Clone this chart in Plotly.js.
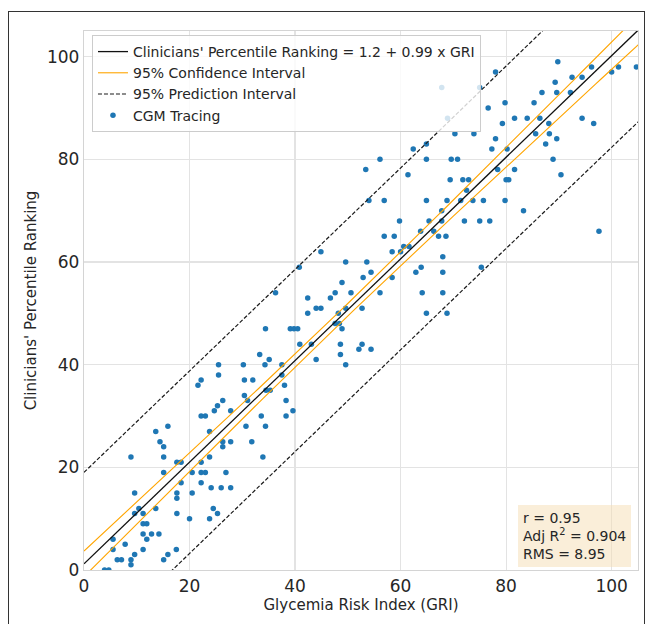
<!DOCTYPE html>
<html>
<head>
<meta charset="utf-8">
<script src="https://cdn.plot.ly/plotly-3.0.1.min.js"></script>
<style>
  html, body { margin: 0; padding: 0; background: #ffffff; }
  #wrap { position: relative; width: 648px; height: 624px; overflow: hidden; }
  #chart { position: absolute; left: 0; top: 0; width: 648px; height: 624px; }
  #frame { position: absolute; left: 8px; top: 11px; width: 637px; height: 640px;
           border: 1.5px solid #333333; box-sizing: border-box; pointer-events: none; }
</style>
</head>
<body>
<div id="wrap">
  <div id="chart"></div>
  <div id="frame"></div>
</div>
<script>
// ---- data ----
const gri = [
  3.9, 4.7, 5.5, 5.5, 6.3, 7.1, 7.8, 8.9, 8.9, 8.9,
  9.6, 9.6, 9.6, 10.4, 11.2, 11.2, 11.2, 11.2, 11.9, 11.9,
  12.8, 13.6, 13.6, 14.2, 14.4, 15.1, 15.1, 15.1, 15.1, 15.9,
  15.9, 17.5, 17.6, 17.6, 17.6, 17.6, 18.4, 18.4, 20.0, 20.5,
  20.5, 21.6, 22.2, 22.2, 22.2, 22.2, 22.2, 23.0, 23.0, 23.8,
  23.8, 23.8, 24.1, 24.5, 24.7, 25.3, 25.3, 25.5, 25.5, 26.0,
  26.3, 26.3, 26.3, 26.9, 27.8, 27.8, 27.8, 30.2, 30.4, 30.4,
  30.7, 31.0, 31.8, 32.0, 33.3, 33.6, 33.9, 34.3, 34.4, 34.4,
  34.5, 35.1, 35.3, 36.3, 37.5, 37.5, 38.0, 38.3, 38.3, 39.1,
  39.8, 40.5, 39.6, 40.8, 40.9, 42.4, 42.4, 43.1, 44.0, 44.0,
  44.9, 44.9, 46.7, 47.6, 47.6, 48.2, 48.4, 48.6, 48.6, 48.9,
  48.9, 49.6, 49.6, 49.6, 50.6, 52.1, 52.7, 52.7, 52.9, 53.4,
  53.6, 54.0, 54.4, 54.4, 56.1, 56.1, 56.9, 56.9, 58.4, 58.4,
  58.8, 59.8, 60.0, 60.6, 61.6, 61.4, 62.4, 62.9, 63.8, 63.9,
  64.1, 64.9, 64.9, 64.9, 64.9, 65.4, 66.3, 67.2, 67.8, 67.8,
  67.8, 68.0, 68.0, 68.0, 68.6, 68.8, 68.8, 68.9, 69.4, 69.6,
  70.3, 70.8, 71.4, 71.8, 72.1, 72.5, 72.9, 73.7, 73.9, 75.0,
  75.0, 75.3, 75.7, 76.6, 76.9, 77.3, 78.0, 78.0, 78.4, 79.3,
  79.8, 79.8, 80.0, 80.5, 80.2, 81.6, 81.6, 83.3, 84.0, 85.3,
  85.6, 86.4, 86.8, 87.5, 88.1, 88.2, 88.9, 89.3, 89.6, 89.8,
  89.6, 90.4, 92.2, 92.5, 94.4, 94.4, 96.2, 96.6, 97.6, 100.0,
  101.3, 104.7
];
const ranking = [
  0, 0, 4, 6, 2, 2, 5, 2, 1, 22,
  3, 15, 11, 12, 11, 9, 7, 4, 9, 6,
  7, 12, 27, 7, 25, 24, 22, 19, 2, 28,
  3, 4, 21, 15, 14, 11, 21, 17, 10, 19,
  15, 36, 37, 30, 21, 19, 17, 30, 19, 27,
  22, 10, 16, 12, 31, 32, 11, 40, 38, 16,
  33, 25, 24, 19, 31, 25, 16, 40, 37, 34,
  28, 33, 25, 37, 42, 30, 22, 40, 47, 28,
  35, 41, 35, 54, 40, 38, 36, 33, 30, 47,
  47, 47, 31, 59, 44, 53, 50, 44, 41, 51,
  51, 62, 53, 54, 48, 50, 48, 44, 42, 56,
  47, 60, 51, 40, 54, 43, 51, 44, 57, 78,
  60, 72, 58, 43, 80, 54, 72, 65, 62, 57,
  65, 68, 62, 63, 63, 77, 82, 58, 66, 59,
  54, 83, 80, 72, 50, 68, 66, 65, 94, 70,
  68, 61, 58, 54, 65, 72, 50, 88, 76, 80,
  85, 80, 72, 76, 68, 74, 76, 72, 85, 94,
  68, 59, 72, 90, 68, 82, 97, 84, 78, 87,
  91, 72, 76, 76, 82, 88, 78, 70, 88, 91,
  85, 88, 93, 83, 87, 85, 80, 95, 93, 99,
  84, 77, 93, 96, 96, 88, 98, 87, 66, 97,
  98, 98
];
const tickVals = [0, 20, 40, 60, 80, 100];
const fitIntercept = 1.2;
const fitSlope = 0.99;
const statR = "0.95";
const statAdjR2 = "0.904";
const statRMS = 8.95;
const tCrit = 1.971;

// ---- regression bands from the fit and the data ----
const n = gri.length;
const xbar = gri.reduce((a, b) => a + b, 0) / n;
const sxx = gri.reduce((a, b) => a + (b - xbar) * (b - xbar), 0);
const xs = [];
for (let v = 0; v <= 110; v += 1) xs.push(v);
const fit = xs.map(v => fitIntercept + fitSlope * v);
const ciHalf = xs.map(v => tCrit * statRMS * Math.sqrt(1 / n + (v - xbar) * (v - xbar) / sxx));
const piHalf = xs.map(v => tCrit * statRMS * Math.sqrt(1 + 1 / n + (v - xbar) * (v - xbar) / sxx));
const ciX = xs.concat([null], xs);
const ciY = fit.map((f, i) => f + ciHalf[i]).concat([null], fit.map((f, i) => f - ciHalf[i]));
const piY = fit.map((f, i) => f + piHalf[i]).concat([null], fit.map((f, i) => f - piHalf[i]));

const traces = [
  {
    x: gri, y: ranking, type: 'scatter', mode: 'markers', name: 'CGM Tracing',
    marker: { color: '#1f77b4', size: 5.5 }, legendrank: 4, cliponaxis: true
  },
  {
    x: ciX, y: ciY, type: 'scatter', mode: 'lines', name: '95% Confidence Interval',
    line: { color: '#FFA500', width: 1.1 }, connectgaps: false, legendrank: 2
  },
  {
    x: ciX, y: piY, type: 'scatter', mode: 'lines', name: '95% Prediction Interval',
    line: { color: '#1a1a1a', width: 1.2, dash: '4px,2px' }, connectgaps: false, legendrank: 3
  },
  {
    x: [0, 110], y: [fitIntercept, fitIntercept + fitSlope * 110], type: 'scatter', mode: 'lines',
    name: "Clinicians' Percentile Ranking = " + fitIntercept + " + " + fitSlope + " x GRI",
    line: { color: '#111111', width: 1.3 }, legendrank: 1
  }
];

const axisCommon = {
  range: [0, 105],
  tickvals: tickVals,
  ticks: '',
  showgrid: true,
  gridcolor: '#e3e3e3',
  gridwidth: 1.2,
  showline: true,
  mirror: true,
  linecolor: '#d4d4d4',
  linewidth: 1.2,
  zeroline: false,
  tickfont: { size: 17, color: '#262626' },
  automargin: false,
  fixedrange: true
};

const layout = {
  width: 648, height: 624,
  margin: { l: 84, r: 10, t: 31, b: 54, pad: 0 },
  paper_bgcolor: '#ffffff',
  plot_bgcolor: '#ffffff',
  font: { family: 'DejaVu Sans, sans-serif', color: '#262626' },
  showlegend: true,
  legend: {
    x: 0.0144, y: 0.9926, xanchor: 'left', yanchor: 'top',
    bgcolor: 'rgba(255,255,255,0.8)', bordercolor: '#cccccc', borderwidth: 1,
    font: { size: 14, color: '#262626' }, tracegroupgap: 0
  },
  xaxis: Object.assign({}, axisCommon, {
    title: { text: 'Glycemia Risk Index (GRI)', font: { size: 15, color: '#262626' }, standoff: 3 }
  }),
  yaxis: Object.assign({}, axisCommon, {
    title: { text: "Clinicians' Percentile Ranking", font: { size: 15, color: '#262626' }, standoff: 6 }
  }),
  annotations: [{
    xref: 'paper', yref: 'paper', x: 0.7834, y: 0.0056, xanchor: 'left', yanchor: 'bottom',
    align: 'left', showarrow: false,
    text: 'r = ' + statR + '<br>Adj R<sup>2</sup> = ' + statAdjR2 + '<br>RMS = ' + statRMS,
    font: { size: 14, color: '#262626' },
    bgcolor: 'rgba(245,222,179,0.5)', borderpad: 5, borderwidth: 0
  }]
};

Plotly.newPlot('chart', traces, layout, { displayModeBar: false, staticPlot: true });
</script>
</body>
</html>
